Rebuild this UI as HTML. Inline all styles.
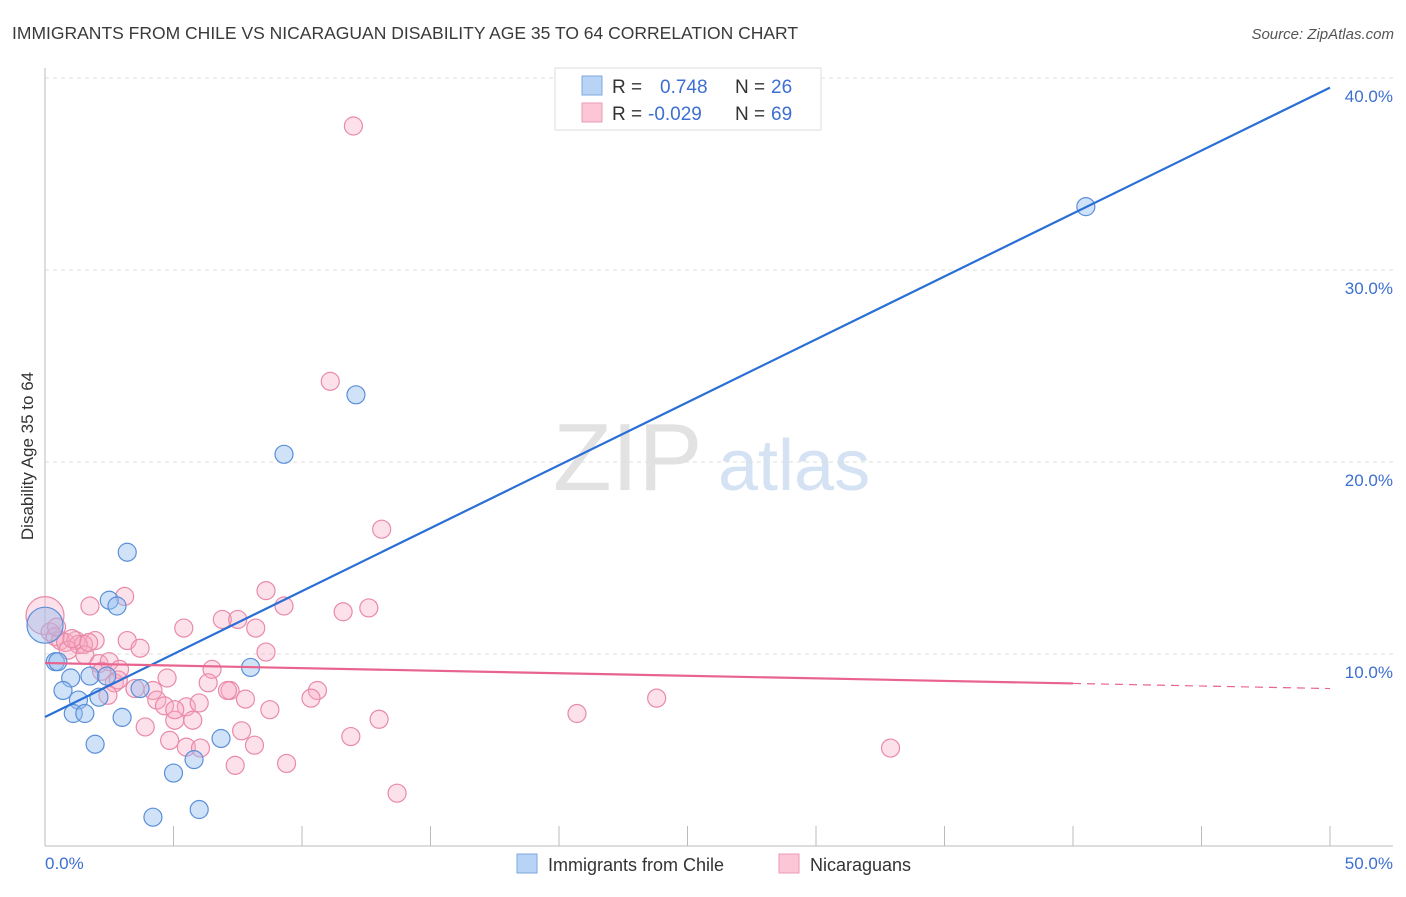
<!DOCTYPE html>
<html><head><meta charset="utf-8"><style>
body{margin:0;background:#fff;font-family:"Liberation Sans",sans-serif;}
svg text{font-family:"Liberation Sans",sans-serif;}
</style></head><body>
<svg id="chart" width="1406" height="892" xmlns="http://www.w3.org/2000/svg">
<text x="12" y="39" font-size="17.5" fill="#3a3a3a">IMMIGRANTS FROM CHILE VS NICARAGUAN DISABILITY AGE 35 TO 64 CORRELATION CHART</text>
<text x="1394" y="39" font-size="15" fill="#555" font-style="italic" text-anchor="end">Source: ZipAtlas.com</text>
<g>
<text x="553" y="490" font-size="96" fill="#e2e2e2" font-family="Liberation Serif,serif">ZIP</text>
<text x="718" y="490" font-size="72" fill="#d4e2f4">atlas</text>
</g>
<g id="grid"></g>
<line x1="45" y1="68" x2="45" y2="846" stroke="#bbb" stroke-width="1"/>
<line x1="45" y1="846" x2="1393" y2="846" stroke="#bbb" stroke-width="1"/>
<text transform="translate(33,456) rotate(-90)" font-size="17" fill="#333" text-anchor="middle">Disability Age 35 to 64</text>
<text x="45" y="869" font-size="17" fill="#3d6fd1">0.0%</text>
<text x="1393" y="869" font-size="17" fill="#3d6fd1" text-anchor="end">50.0%</text>
<g id="marks"></g>
<g>
<rect x="555" y="68" width="266" height="62" fill="#fff" stroke="#ddd"/>
<rect x="582" y="76" width="20" height="19" fill="#b7d3f5" stroke="#7ea7e0"/>
<rect x="582" y="103" width="20" height="19" fill="#fcc6d6" stroke="#eb9ab5"/>
<text x="612" y="93" font-size="19" fill="#333">R =</text>
<text x="660" y="93" font-size="19" fill="#3d6fd1">0.748</text>
<text x="735" y="93" font-size="19" fill="#333">N =</text>
<text x="771" y="93" font-size="19" fill="#3d6fd1">26</text>
<text x="612" y="120" font-size="19" fill="#333">R =</text>
<text x="648" y="120" font-size="19" fill="#3d6fd1">-0.029</text>
<text x="735" y="120" font-size="19" fill="#333">N =</text>
<text x="771" y="120" font-size="19" fill="#3d6fd1">69</text>
</g>
<g>
<rect x="517" y="854" width="20" height="19" fill="#b7d3f5" stroke="#7ea7e0"/>
<text x="548" y="871" font-size="18" fill="#333">Immigrants from Chile</text>
<rect x="779" y="854" width="20" height="19" fill="#fcc6d6" stroke="#eb9ab5"/>
<text x="810" y="871" font-size="18" fill="#333">Nicaraguans</text>
</g>
</svg>
<script>
const yTicks=[10,20,30,40];
const yTickLabels=["10.0%","20.0%","30.0%","40.0%"];
const xTicks=[5,10,15,20,25,30,35,40,45,50];
const chileX=[40.5,12.1,9.3,3.2,2.5,2.8,8.0,0.0,0.4,0.5,1.0,0.7,1.75,2.4,2.1,1.3,1.1,1.55,3.0,3.7,6.85,5.8,1.95,5.0,6.0,4.2];
const chileY=[33.3,23.5,20.4,15.3,12.8,12.5,9.3,11.5,9.6,9.6,8.75,8.1,8.85,8.85,7.75,7.6,6.9,6.9,6.7,8.2,5.6,4.5,5.3,3.8,1.9,1.5];
const nicX=[12.0,11.1,13.1,8.6,3.1,1.75,9.3,12.6,11.6,6.9,7.5,5.4,8.2,0,0.2,0.4,0.6,0.8,1.2,1.3,1.95,1.5,0.9,3.2,3.7,1.55,2.1,2.5,2.9,8.6,6.5,2.2,2.7,4.75,4.2,3.5,6.35,7.2,10.6,10.35,7.8,5.5,6.0,8.75,13.0,20.7,23.8,4.35,3.9,5.05,5.75,4.65,7.1,7.65,8.15,4.85,5.5,6.05,11.9,7.4,9.4,13.7,32.9,2.45,5.05,2.85,1.7,1.05,0.45];
const nicY=[37.5,24.2,16.5,13.3,13.0,12.5,12.5,12.4,12.2,11.8,11.8,11.35,11.35,12.0,11.15,10.9,10.7,10.6,10.7,10.5,10.7,10.5,10.2,10.7,10.3,9.95,9.5,9.6,9.2,10.1,9.2,9.1,8.5,8.75,8.1,8.2,8.5,8.1,8.1,7.7,7.65,7.25,7.45,7.1,6.6,6.9,7.7,7.6,6.2,6.55,6.55,7.3,8.1,6.0,5.25,5.5,5.15,5.1,5.7,4.2,4.3,2.75,5.1,7.85,7.1,8.65,10.6,10.8,11.4];
const chileTrend=[6.72,39.5];
const nicTrend=[9.53,8.2];
const NS="http://www.w3.org/2000/svg";
function sx(v){return 45+v*25.7;}
function sy(v){return 846-v*19.2;}
const grid=document.getElementById('grid');
const marks=document.getElementById('marks');
function mk(tag,attrs,parent){const e=document.createElementNS(NS,tag);for(const k in attrs)e.setAttribute(k,attrs[k]);parent.appendChild(e);return e;}
yTicks.forEach((t,i)=>{
  const l=mk('line',{x1:45,x2:1393,y1:sy(t),y2:sy(t),stroke:'#ddd','stroke-dasharray':'4,4'},grid);
  
  
  const tx=mk('text',{x:1393,y:sy(t)+24,'font-size':17,fill:'#3d6fd1','text-anchor':'end'},grid);
  tx.textContent=yTickLabels[i];
  
  
});
xTicks.forEach(t=>{
  const l=mk('line',{x1:sx(t),x2:sx(t),y1:826,y2:846,stroke:'#bbb'},grid);
  
  
});
function pt(x,y,r,fill,stroke,name){
  const c=mk('circle',{cx:sx(x),cy:sy(y),r:r,fill:fill,stroke:stroke,'stroke-width':1.2},marks);
  
  
}
nicX.forEach((x,i)=>pt(x,nicY[i],i===13?19:9,'rgba(248,170,195,0.35)','#e88aa8','nicaraguan-point'));
chileX.forEach((x,i)=>pt(x,chileY[i],i===7?18:9,'rgba(150,190,240,0.45)','#5b8fd8','chile-point'));
const bl=mk('line',{x1:sx(0),y1:sy(chileTrend[0]),x2:sx(50),y2:sy(chileTrend[1]),stroke:'#2a6fd6','stroke-width':2.2},marks);


const pAt=x=>nicTrend[0]+(nicTrend[1]-nicTrend[0])*x/50;
const pl=mk('line',{x1:sx(0),y1:sy(pAt(0)),x2:sx(40),y2:sy(pAt(40)),stroke:'#e8648e','stroke-width':2.2},marks);


const pd=mk('line',{x1:sx(40),y1:sy(pAt(40)),x2:sx(50),y2:sy(pAt(50)),stroke:'#e8648e','stroke-width':1.2,'stroke-dasharray':'8,6'},marks);


</script>
</body></html>
